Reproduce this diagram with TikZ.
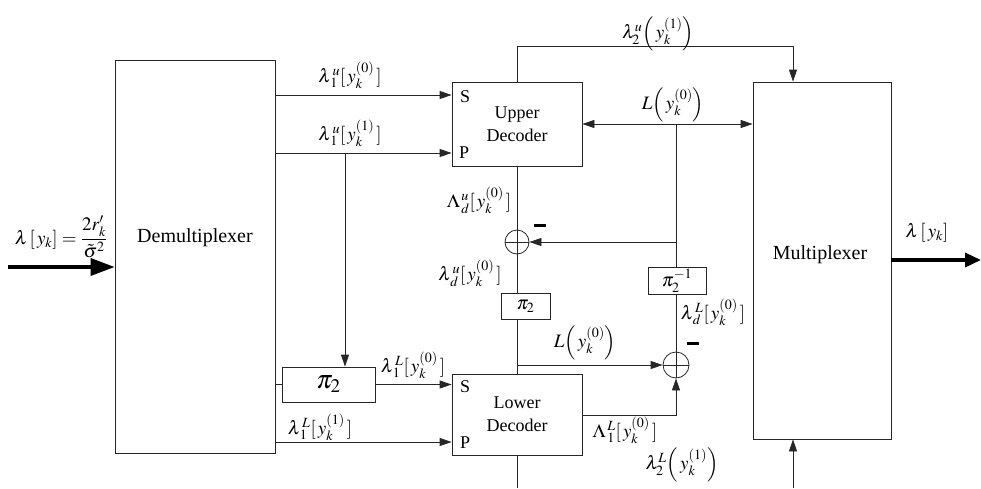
\documentclass[tikz,border=0pt]{standalone}
\usepackage{amsmath}
\usepackage{mathptmx}
\usepackage[no-math]{fontspec}
\setmainfont{Liberation Serif}
\usetikzlibrary{arrows.meta}
\begin{document}
\begin{tikzpicture}[x=1pt,y=-1pt,
  line/.style={draw=black!85, line width=0.8pt},
  arr/.style={line, -{Triangle[length=12pt,width=8pt]}},
  darr/.style={line, {Triangle[length=12pt,width=8pt]}-{Triangle[length=12pt,width=8pt]}},
  bigarr/.style={draw=black, line width=3.5pt, -{Triangle[length=24pt,width=17pt]}},
  blk/.style={draw=black!85, line width=0.8pt, inner sep=0pt, align=center, font=\fontsize{18}{23}\selectfont},
  adder/.style={circle, draw=black!85, line width=0.8pt, minimum size=24pt, inner sep=0pt},
  lbl/.style={inner sep=0pt, font=\fontsize{19}{22}\selectfont},
  port/.style={inner sep=0pt, font=\fontsize{18}{21}\selectfont},
  big/.style={inner sep=0pt, font=\fontsize{20}{24}\selectfont},
]
\useasboundingbox (0,0) rectangle (981,488);
% blocks
\node[blk, minimum width=160pt, minimum height=393pt] (demux) at (195,256.5) {};
\node[big] (demuxtxt) at (195,238) {Demultiplexer};
\node[blk, minimum width=130pt, minimum height=84pt] (upper) at (517,124) {Upper\\Decoder};
\node[blk, minimum width=130pt, minimum height=81pt] (lower) at (517,414.5) {Lower\\Decoder};
\node[blk, minimum width=138pt, minimum height=357pt] (mux) at (822,260.5) {};
\node[big] (muxtxt) at (820,255) {Multiplexer};
\node[blk, minimum width=93pt, minimum height=35pt, font=\fontsize{26}{30}\selectfont] (pibig) at (328.5,384.5) {$\pi_2$};
\node[blk, minimum width=49pt, minimum height=26pt, font=\fontsize{19}{22}\selectfont] (pism) at (525.5,306) {$\pi_2$};
\node[blk, minimum width=58pt, minimum height=27pt, font=\fontsize{19}{22}\selectfont] (piinv) at (677,280.5) {$\pi_2^{-1}$};
\node[adder] (addU) at (517,242) {};
\node[adder, minimum size=26pt] (addL) at (676,365) {};
\draw[line] (addU.north)--(addU.south) (addU.west)--(addU.east);
\draw[line] (addL.north)--(addL.south) (addL.west)--(addL.east);
% ports
\node[port] (uS) at (465,97) {S};
\node[port] (uP) at (464,153) {P};
\node[port] (lS) at (465,387) {S};
\node[port] (lP) at (465,443) {P};
% connectors
\coordinate (in) at (8,267);
\draw[bigarr] (in) -- (demux.west |- in);
\coordinate (out) at (981,260);
\draw[bigarr, -{Triangle[length=16pt,width=14pt]}] (mux.east |- out) -- (out);
\coordinate (uSy) at (0,95);
\draw[arr] (demux.east |- uSy) -- (upper.west |- uSy);
\coordinate (uPy) at (0,153);
\draw[arr] (demux.east |- uPy) -- (upper.west |- uPy);
\coordinate (br) at (345,153);
\draw[arr] (br) -- (br |- pibig.north);
\draw[line] (demux.east |- pibig.west) -- (pibig.west);
\draw[arr] (pibig.east) -- (lower.west |- pibig.east);
\coordinate (lPy) at (0,442);
\draw[arr] (demux.east |- lPy) -- (lower.west |- lPy);
\coordinate (topR) at (793,46);
\draw[arr] (upper.north) |- (topR) -- (topR |- mux.north);
\draw[darr] (upper.east) -- (mux.west |- upper.east);
\coordinate (Lj) at (676,124);
\draw[line] (Lj) -- (Lj |- piinv.north);
\coordinate (fb) at (676,242);
\draw[arr] (fb) -- (addU.east);
\draw[line] (upper.south) -- (addU.north);
\draw[line] (addU.south) -- (addU.south |- pism.north);
\draw[line] (addU.south |- pism.south) -- (lower.north);
\coordinate (lb) at (517,365);
\draw[arr] (lb) -- (addL.west);
\coordinate (lo) at (677,415);
\draw[arr] (lower.east |- lo) -| (addL.south);
\draw[line] (addL.north |- piinv.south) -- (addL.north);
\coordinate (bot) at (517,488);
\draw[line] (lower.south) -- (bot);
\coordinate (mb) at (793,488);
\draw[arr] (mb) -- (mb |- mux.south);
% minus signs
\fill (534,223.5) rectangle (546,226.5);
\fill (687,341.5) rectangle (699,344.5);
% labels
\node[lbl] (l1) at (350,75) {$\lambda^{\,u}_{\,1}[\,y_k^{(0)}\,]$};
\node[lbl] (l2) at (350,133) {$\lambda^{\,u}_{\,1}[\,y_k^{(1)}\,]$};
\node[lbl] (l3) at (413,365) {$\lambda^{\,L}_{\,1}[\,y_k^{(0)}\,]$};
\node[lbl] (l4) at (320,427) {$\lambda^{\,L}_{\,1}[\,y_k^{(1)}\,]$};
\node[lbl] (l5) at (658,34) {$\lambda_2^{u}\Bigl(\,y_k^{(1)}\Bigr)$};
\node[lbl] (l6) at (673,105) {$L\Bigl(\,y_k^{(0)}\Bigr)$};
\node[lbl] (l7) at (479,200) {$\Lambda^{\,u}_{\,d}[\,y_k^{(0)}\,]$};
\node[lbl] (l8) at (470,273) {$\lambda^{\,u}_{\,d}[\,y_k^{(0)}\,]$};
\node[lbl] (l9) at (585,343) {$L\Bigl(\,y_k^{(0)}\Bigr)$};
\node[lbl] (l10) at (713,312) {$\lambda^{\,L}_{\,d}[\,y_k^{(0)}\,]$};
\node[lbl] (l11) at (625,430) {$\Lambda^{\,L}_{\,1}[\,y_k^{(0)}\,]$};
\node[lbl] (l12) at (682,465) {$\lambda_2^{L}\Bigl(\,y_k^{(1)}\Bigr)$};
\node[lbl] (l13) at (61,237) {$\lambda\left[\,y_k\right]=\dfrac{2r_k'}{\tilde\sigma^2}$};
\node[lbl] (l14) at (927,233) {$\lambda\left[\,y_k\right]$};
\end{tikzpicture}
\end{document}
